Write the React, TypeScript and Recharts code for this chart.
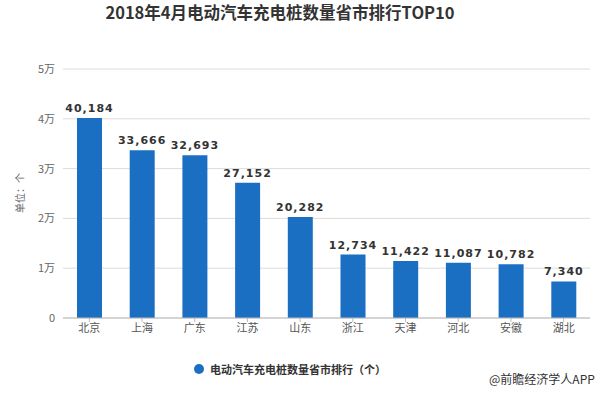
import React from "react";
import { BarChart, Bar, XAxis, YAxis, CartesianGrid, LabelList } from "recharts";

const provinces = ["北京", "上海", "广东", "江苏", "山东", "浙江", "天津", "河北", "安徽", "湖北"];
const counts = [40184, 33666, 32693, 27152, 20282, 12734, 11422, 11087, 10782, 7340];
const yTicks = [0, 10000, 20000, 30000, 40000, 50000];

const title = "2018年4月电动汽车充电桩数量省市排行TOP10";
const seriesName = "电动汽车充电桩数量省市排行（个）";
const unitLabel = "单位：个";
const sourceText = "@前瞻经济学人APP";

const data = provinces.map((p, i) => ({ name: p, value: counts[i] }));

const FONT = "'Noto Sans CJK SC', 'Noto Sans', sans-serif";
const BLUE = "#1b6fc2";

export default function App() {
  return (
    <div style={{ position: "absolute", left: 0, top: 0, width: 606, height: 395, background: "#fff", fontFamily: FONT }}>
      <div style={{ position: "absolute", left: 0, top: 0, width: 560, textAlign: "center", fontSize: 16.5, fontWeight: 700, color: "#333" }}>
        {title}
      </div>
      <BarChart width={606} height={395} data={data} margin={{ top: 69, right: 16, bottom: 47, left: 0 }}>
        <CartesianGrid vertical={false} stroke="#dcdcdc" />
        <XAxis
          dataKey="name"
          height={30}
          axisLine={{ stroke: "#bbb" }}
          tickLine={{ stroke: "#bbb" }}
          tickSize={4}
          tick={{ fontSize: 11, fill: "#555", fontFamily: FONT }}
        />
        <YAxis
          width={63}
          domain={[0, 50000]}
          ticks={yTicks}
          axisLine={false}
          tickLine={false}
          tick={{ fontSize: 11, fill: "#666", fontFamily: FONT }}
          tickFormatter={(v: number) => (v === 0 ? "0" : `${v / 10000}万`)}
        />
        <Bar dataKey="value" fill={BLUE} barSize={25} isAnimationActive={false}>
          <LabelList
            dataKey="value"
            position="top"
            offset={6}
            formatter={(v: number) => v.toLocaleString("en-US")}
            style={{ fontSize: 11, fontWeight: 700, fill: "#333", letterSpacing: 1, fontFamily: "'DejaVu Sans', sans-serif" }}
          />
        </Bar>
      </BarChart>
      <div style={{ position: "absolute", left: 20, top: 193, width: 0, height: 0 }}>
        <div style={{ position: "absolute", left: -40, top: -8, width: 80, textAlign: "center", fontSize: 10, color: "#666", transform: "rotate(-90deg)", lineHeight: "16px" }}>
          {unitLabel}
        </div>
      </div>
      <div style={{ position: "absolute", left: 194, top: 361, display: "flex", alignItems: "center", fontSize: 11, fontWeight: 700, color: "#333" }}>
        <span style={{ display: "inline-block", width: 10, height: 10, borderRadius: 5, background: BLUE, marginRight: 6 }} />
        {seriesName}
      </div>
      <div style={{ position: "absolute", left: 489, top: 370, fontSize: 12, color: "#333" }}>{sourceText}</div>
    </div>
  );
}
